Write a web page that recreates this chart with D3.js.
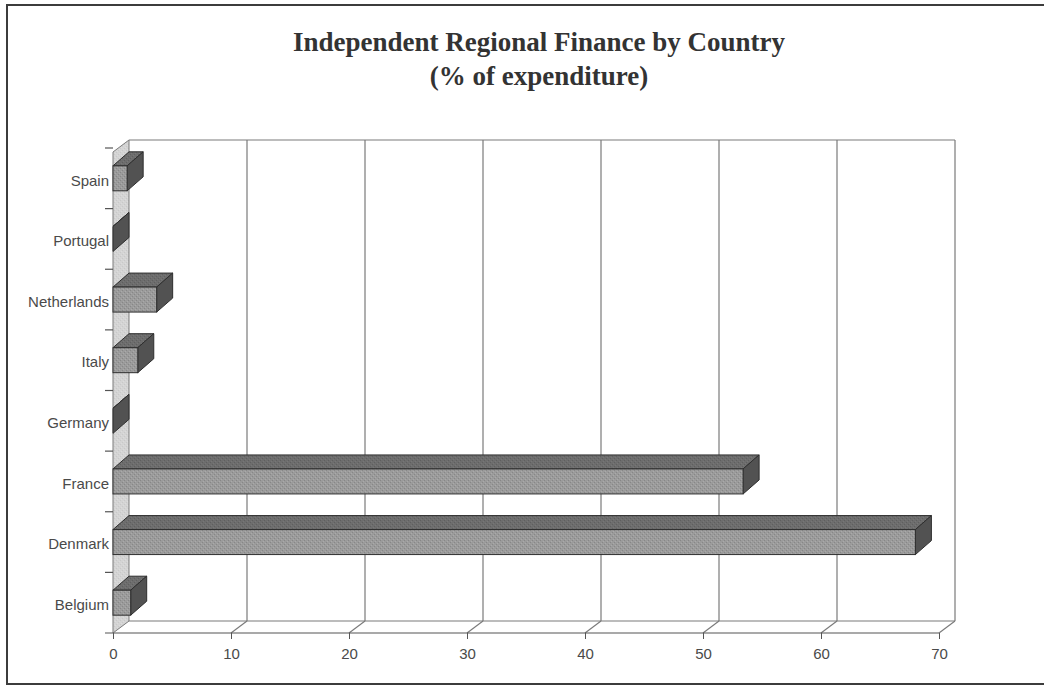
<!DOCTYPE html>
<html>
<head>
<meta charset="utf-8">
<script src="https://cdn.jsdelivr.net/npm/d3@7"></script>
<style>
  html, body { margin: 0; padding: 0; background: #fff; }
  svg { display: block; }
</style>
</head>
<body>
<svg id="chart" width="1044" height="689"></svg>
<script>
// Categories listed top to bottom as they appear on the vertical axis
const countries = ["Spain", "Portugal", "Netherlands", "Italy", "Germany", "France", "Denmark", "Belgium"];
// Independent regional finance, % of expenditure
const shares = [1.2, 0, 3.7, 2.1, 0, 53.4, 68.0, 1.5];
const xTicks = [0, 10, 20, 30, 40, 50, 60, 70];
const titleLines = ["Independent Regional Finance by Country", "(% of expenditure)"];

const svg = d3.select("#chart");

// pseudo-3D layout: front plane plus a receding depth offset
const depth = { dx: 16, dy: -12 };
const barDepth = { dx: 16, dy: -14 };
const floorY = 633;
const wallTopBack = 140;

const x = d3.scaleLinear().domain([0, 70]).range([113, 939]);
const y = d3.scaleBand().domain(countries).range([148, floorY]).paddingInner(0).paddingOuter(0);

// stipple texture for bar faces
const defs = svg.append("defs");
function stipple(id, base, dark, light) {
  const p = defs.append("pattern").attr("id", id)
    .attr("patternUnits", "userSpaceOnUse").attr("width", 4).attr("height", 4);
  p.append("rect").attr("width", 4).attr("height", 4).attr("fill", base);
  p.append("rect").attr("x", 0).attr("y", 0).attr("width", 1).attr("height", 1).attr("fill", dark);
  p.append("rect").attr("x", 2).attr("y", 2).attr("width", 1).attr("height", 1).attr("fill", dark);
  p.append("rect").attr("x", 1).attr("y", 3).attr("width", 1).attr("height", 1).attr("fill", light);
  p.append("rect").attr("x", 3).attr("y", 1).attr("width", 1).attr("height", 1).attr("fill", light);
}
stipple("frontTex", "#9b9b9b", "#878787", "#aaaaaa");
stipple("topTex", "#6d6d6d", "#5f5f5f", "#777777");
stipple("wallTex", "#d4d4d4", "#c8c8c8", "#dcdcdc");

// outer frame
svg.append("rect")
  .attr("x", 7).attr("y", 5).attr("width", 1045).attr("height", 679)
  .attr("fill", "none").attr("stroke", "#3c3c3c").attr("stroke-width", 2);

// title
const title = svg.append("g")
  .attr("font-family", "'Liberation Serif', 'Times New Roman', serif")
  .attr("font-weight", "bold").attr("font-size", 27).attr("fill", "#333")
  .attr("text-anchor", "middle");
title.selectAll("text").data(titleLines).join("text")
  .attr("x", 539).attr("y", (d, i) => 51 + i * 34)
  .text(d => d);

const gridColor = "#7a7a7a";
const plot = svg.append("g");

const x0 = x(0), xMax = x(70);
const wallTopFront = wallTopBack - depth.dy;

// left side wall
plot.append("path")
  .attr("d", d3.line()([[x0, wallTopFront], [x0 + depth.dx, wallTopBack],
    [x0 + depth.dx, floorY + depth.dy], [x0, floorY]]) + "Z")
  .attr("fill", "url(#wallTex)").attr("stroke", gridColor).attr("stroke-width", 1);

// back wall top edge
plot.append("line")
  .attr("x1", x0 + depth.dx).attr("x2", xMax + depth.dx)
  .attr("y1", wallTopBack).attr("y2", wallTopBack)
  .attr("stroke", gridColor).attr("stroke-width", 1.2);

// vertical gridlines on back wall
plot.selectAll("line.grid").data(xTicks.slice(1)).join("line")
  .attr("class", "grid")
  .attr("x1", d => x(d) + depth.dx).attr("x2", d => x(d) + depth.dx)
  .attr("y1", wallTopBack).attr("y2", floorY + depth.dy)
  .attr("stroke", gridColor).attr("stroke-width", 1.2);

// floor: back edge, front axis line and receding tick connectors
plot.append("line")
  .attr("x1", x0 + depth.dx).attr("x2", xMax + depth.dx)
  .attr("y1", floorY + depth.dy).attr("y2", floorY + depth.dy)
  .attr("stroke", gridColor).attr("stroke-width", 1.2);
plot.selectAll("line.floor").data(xTicks.slice(1)).join("line")
  .attr("class", "floor")
  .attr("x1", d => x(d)).attr("x2", d => x(d) + depth.dx)
  .attr("y1", floorY).attr("y2", floorY + depth.dy)
  .attr("stroke", gridColor).attr("stroke-width", 1.2);

// x axis on the front edge
const xAxis = d3.axisBottom(x).tickValues(xTicks).tickSize(6).tickPadding(9);
const gx = plot.append("g").attr("transform", `translate(0,${floorY})`).call(xAxis);
gx.select(".domain").remove();
gx.selectAll(".tick line").attr("stroke", "#555");
gx.selectAll(".tick text")
  .attr("font-family", "'Liberation Sans', Arial, sans-serif")
  .attr("font-size", 15).attr("fill", "#4a4a4a");
plot.append("line")
  .attr("x1", x0 - 8).attr("x2", xMax).attr("y1", floorY).attr("y2", floorY)
  .attr("stroke", "#555").attr("stroke-width", 1.2);

// category ticks at band boundaries
const bounds = countries.map(c => y(c));
plot.selectAll("line.ctick").data(bounds).join("line")
  .attr("class", "ctick")
  .attr("x1", x0 - 8).attr("x2", x0).attr("y1", d => d).attr("y2", d => d)
  .attr("stroke", "#555").attr("stroke-width", 1.2);

// category labels
plot.selectAll("text.cat").data(countries).join("text")
  .attr("class", "cat")
  .attr("x", 109).attr("y", d => y(d) + y.bandwidth() / 2 + 2)
  .attr("dy", "0.35em").attr("text-anchor", "end")
  .attr("font-family", "'Liberation Sans', Arial, sans-serif")
  .attr("font-size", 15).attr("fill", "#4a4a4a")
  .text(d => d);

// 3D bars
const barH = 25;
const bars = plot.selectAll("g.bar").data(countries.map((c, i) => ({ c, v: shares[i] }))).join("g")
  .attr("class", "bar");
const edge = "#2e2e2e";
bars.each(function (d) {
  const g = d3.select(this);
  const top = y(d.c) + y.bandwidth() / 2 - barH / 2;
  const bot = top + barH;
  const xl = x(0), xr = x(d.v);
  const { dx, dy } = barDepth;
  // top face
  g.append("path")
    .attr("d", d3.line()([[xl, top], [xl + dx, top + dy], [xr + dx, top + dy], [xr, top]]) + "Z")
    .attr("fill", "url(#topTex)").attr("stroke", edge).attr("stroke-width", 1);
  // end face
  g.append("path")
    .attr("d", d3.line()([[xr, top], [xr + dx, top + dy], [xr + dx, bot + dy], [xr, bot]]) + "Z")
    .attr("fill", "#525252").attr("stroke", edge).attr("stroke-width", 1);
  // front face
  if (xr - xl > 0) {
    g.append("rect")
      .attr("x", xl).attr("y", top).attr("width", xr - xl).attr("height", barH)
      .attr("fill", "url(#frontTex)").attr("stroke", edge).attr("stroke-width", 1);
  }
});
</script>
</body>
</html>
